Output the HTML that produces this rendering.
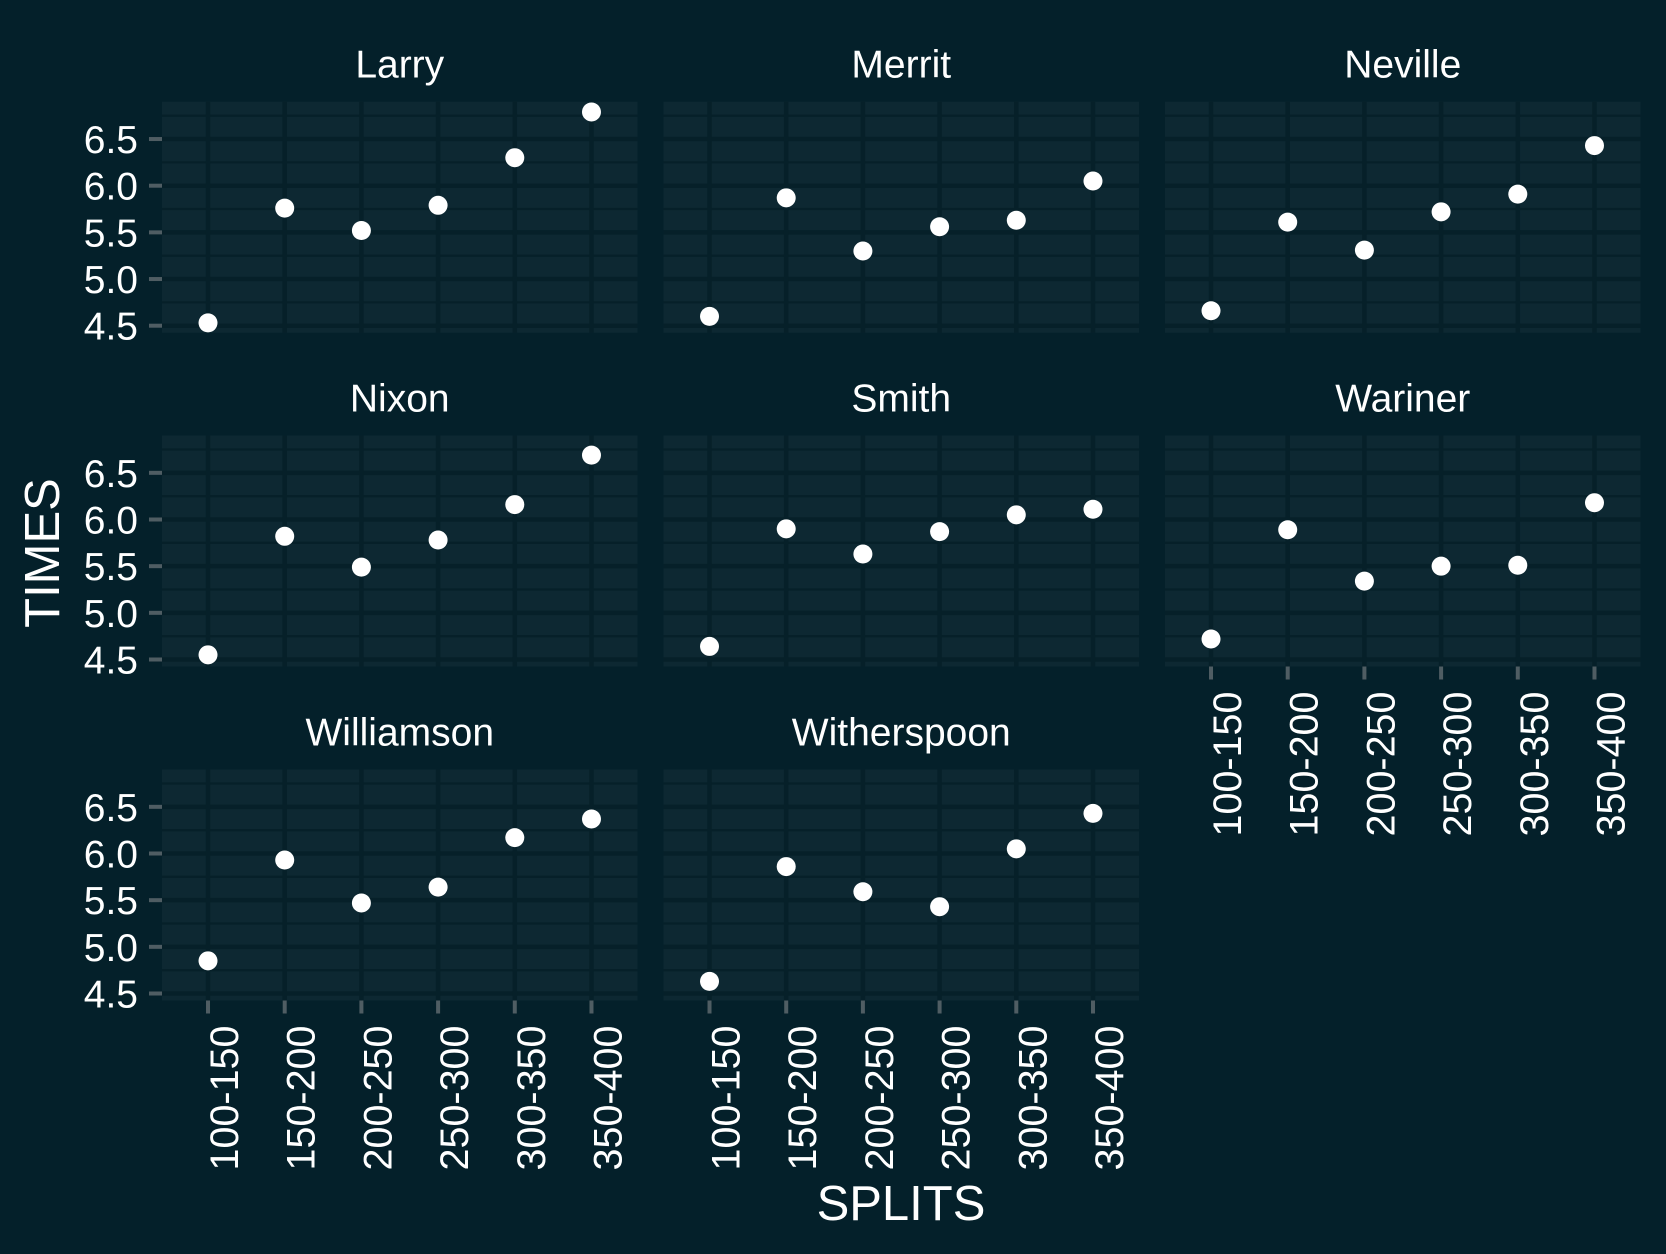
<!DOCTYPE html>
<html><head><meta charset="utf-8"><style>
html,body{margin:0;padding:0;background:#04202a;}
svg{display:block;font-family:"Liberation Sans",Arial,sans-serif;}
</style></head><body>
<svg id="chart" width="1666" height="1254" viewBox="0 0 1666 1254">
<rect x="0" y="0" width="1666" height="1254" fill="#04202a"/>
<text x="901" y="1220" font-size="49" fill="#ffffff" text-anchor="middle">SPLITS</text>
<text transform="translate(59,553) rotate(-90)" font-size="49" fill="#ffffff" text-anchor="middle">TIMES</text>
</svg>
<script>
const categories = ["100-150","150-200","200-250","250-300","300-350","350-400"];
const athletes = ["Larry","Merrit","Neville","Nixon","Smith","Wariner","Williamson","Witherspoon"];
const larryTimes = [4.53,5.76,5.52,5.79,6.30,6.79];
const merritTimes = [4.60,5.87,5.30,5.56,5.63,6.05];
const nevilleTimes = [4.66,5.61,5.31,5.72,5.91,6.43];
const nixonTimes = [4.55,5.82,5.49,5.78,6.16,6.69];
const smithTimes = [4.64,5.90,5.63,5.87,6.05,6.11];
const warinerTimes = [4.72,5.89,5.34,5.50,5.51,6.18];
const williamsonTimes = [4.85,5.93,5.47,5.64,6.17,6.37];
const witherspoonTimes = [4.63,5.86,5.59,5.43,6.05,6.43];
const yTicks = [4.5,5.0,5.5,6.0,6.5];
const yTickLabels = ["4.5","5.0","5.5","6.0","6.5"];
const yMin = 4.425, yMax = 6.9;
const series = [larryTimes,merritTimes,nevilleTimes,nixonTimes,smithTimes,warinerTimes,williamsonTimes,witherspoonTimes];

const NS="http://www.w3.org/2000/svg";
const svg=document.getElementById('chart');
const colX=[162,663.5,1165], rowY=[101.7,435.5,769.5], PW=475.5, PH=231;
function mk(tag,attrs,parent){const e=document.createElementNS(NS,tag);for(const k in attrs)e.setAttribute(k,attrs[k]);(parent||svg).appendChild(e);return e;}

athletes.forEach((name,i)=>{
  const col=i%3,row=Math.floor(i/3);
  const x0=colX[col],y0=rowY[row];
  const unit=PW/(categories.length-1+1.2);
  const xs=c=>x0+(0.6+c)*unit;
  const ys=v=>y0+PH-(v-yMin)/(yMax-yMin)*PH;
  const g=mk('g',{});
  
  
  const bg=mk('rect',{x:x0,y:y0,width:PW,height:PH,fill:'#0d2832'},g);
  
  
  for(let k=0;k<yTicks.length;k++){
    const v=yTicks[k]+0.25;
    if(v<yMax){const l=mk('line',{x1:x0,x2:x0+PW,y1:ys(v),y2:ys(v),stroke:'#062029','stroke-width':2.3},g);
      
      }
  }
  yTicks.forEach((t,k)=>{
    const l=mk('line',{x1:x0,x2:x0+PW,y1:ys(t),y2:ys(t),stroke:'#062029','stroke-width':4.5},g);
    
    
  });
  categories.forEach((c,k)=>{
    const l=mk('line',{x1:xs(k),x2:xs(k),y1:y0,y2:y0+PH,stroke:'#062029','stroke-width':4.5},g);
    
    
  });
  const st=mk('text',{x:x0+PW/2,y:y0-24,'font-size':39,fill:'#ffffff','text-anchor':'middle'},g);
  st.textContent=name;
  
  
  if(col===0){
    yTicks.forEach((t,k)=>{
      const tk=mk('line',{x1:x0-13,x2:x0,y1:ys(t),y2:ys(t),stroke:'#4f5d63','stroke-width':4},g);
      
      
      const tl=mk('text',{x:x0-24,y:ys(t)+14,'font-size':39,fill:'#ffffff','text-anchor':'end'},g);
      tl.textContent=yTickLabels[k];
      
      
    });
  }
  if(row===2||(row===1&&col===2)){
    categories.forEach((c,k)=>{
      const tk=mk('line',{x1:xs(k),x2:xs(k),y1:y0+PH,y2:y0+PH+13,stroke:'#4f5d63','stroke-width':4},g);
      
      
      const tl=mk('text',{transform:'translate('+(xs(k)+30)+','+(y0+PH+25)+') rotate(-90)','font-size':39.5,fill:'#ffffff','text-anchor':'end'},g);
      tl.textContent=c;
      
      
    });
  }
  series[i].forEach((v,k)=>{
    const p=mk('circle',{cx:xs(k),cy:ys(v),r:9.5,fill:'#ffffff'},g);
    
    
  });
});
</script>
</body></html>
